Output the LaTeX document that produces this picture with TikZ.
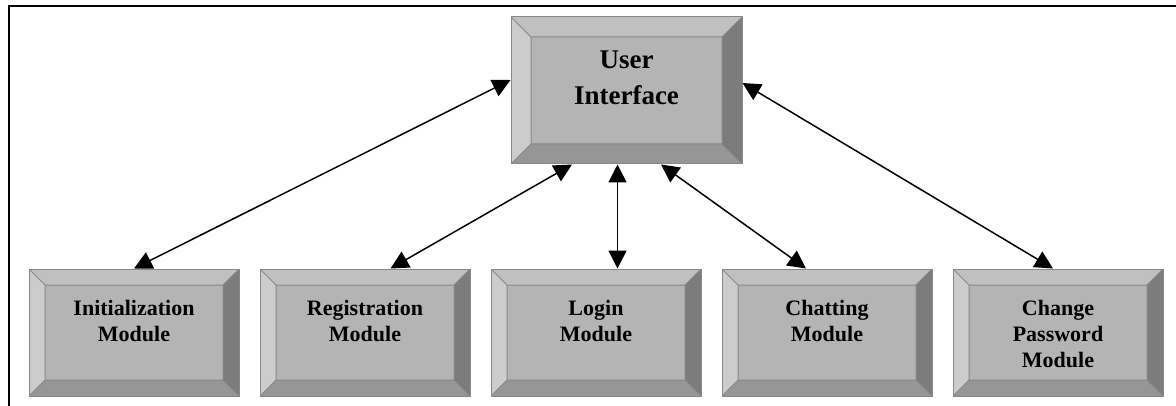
\documentclass[tikz,border=0pt]{standalone}
\usepackage{fontspec}
\setmainfont{Liberation Serif}
\usetikzlibrary{positioning,calc,arrows.meta}

\definecolor{facegray}{RGB}{180,180,180}
\definecolor{topgray}{RGB}{192,192,192}
\definecolor{leftgray}{RGB}{204,204,204}
\definecolor{rightgray}{RGB}{124,124,124}
\definecolor{bottomgray}{RGB}{150,150,150}
\definecolor{edgegray}{RGB}{136,136,136}

\newcommand{\uitext}[1]{\parbox[c][40pt][t]{110pt}{\centering\fontsize{13.5}{18}\selectfont\bfseries #1}}
\newcommand{\modtext}[1]{\parbox[c][32pt][t]{100pt}{\centering\fontsize{11}{13}\selectfont\bfseries #1}}

\tikzset{
  bevel/.style={draw=edgegray, fill=facegray, line width=0.5pt, inner sep=0pt,
    path picture={
      \path (path picture bounding box.north west) coordinate (nw)
            (path picture bounding box.north east) coordinate (ne)
            (path picture bounding box.south east) coordinate (se)
            (path picture bounding box.south west) coordinate (sw);
      \path ($(nw)+(#1,-#1)$) coordinate (inw)
            ($(ne)+(-#1,-#1)$) coordinate (ine)
            ($(se)+(-#1,#1)$) coordinate (ise)
            ($(sw)+(#1,#1)$) coordinate (isw);
      \fill[topgray] (nw) -- (ne) -- (ine) -- (inw) -- cycle;
      \fill[leftgray] (nw) -- (inw) -- (isw) -- (sw) -- cycle;
      \fill[rightgray] (ne) -- (se) -- (ise) -- (ine) -- cycle;
      \fill[bottomgray] (sw) -- (isw) -- (ise) -- (se) -- cycle;
      \draw[edgegray, line width=0.5pt] (inw) rectangle (ise)
        (nw) -- (inw) (ne) -- (ine) (se) -- (ise) (sw) -- (isw);
    }},
  bevel/.default=8pt,
  uibox/.style={bevel=10pt, minimum width=115.5pt, minimum height=73.5pt},
  modbox/.style={bevel=8pt, minimum width=105pt, minimum height=63.5pt},
  link/.style={<->, >={Triangle[length=9pt,width=9pt]}, line width=0.75pt},
  frame/.style={line width=1.2pt}
}

\begin{document}
\begin{tikzpicture}[x=0.5pt,y=-0.5pt]
    \useasboundingbox (0,0) rectangle (1176,406);

    % draw frame
    \draw[frame] (9,406) -- (9,6) -- (1176,6);

    % draw boxes
    \node[uibox] (ui) at (626.5,90.5) {\uitext{User\\Interface}};
    \node[modbox] (init) at (134,332.5) {\modtext{Initialization\\Module}};
    \node[modbox, right=10pt of init] (reg) {\modtext{Registration\\Module}};
    \node[modbox, right=10pt of reg] (login) {\modtext{Login\\Module}};
    \node[modbox, right=10pt of login] (chat) {\modtext{Chatting\\Module}};
    \node[modbox, right=10pt of chat] (passwd) {\modtext{Change\\Password\\Module}};

    % draw links
    \draw[link] (init.north) -- ($(ui.west)+(0,-10.5)$);
    \draw[link] ($(reg.north)+(25.5,0)$) -- ($(ui.south)+(-54.5,0)$);
    \coordinate (lg) at ($(login.north)+(21.5,0)$);
    \draw[link] (lg) -- (lg |- ui.south);
    \draw[link] ($(chat.north)+(-21,0)$) -- ($(ui.south)+(34.5,0)$);
    \draw[link] ($(passwd.north)+(-5,0)$) -- ($(ui.east)+(0,-7.5)$);

\end{tikzpicture}
\end{document}
